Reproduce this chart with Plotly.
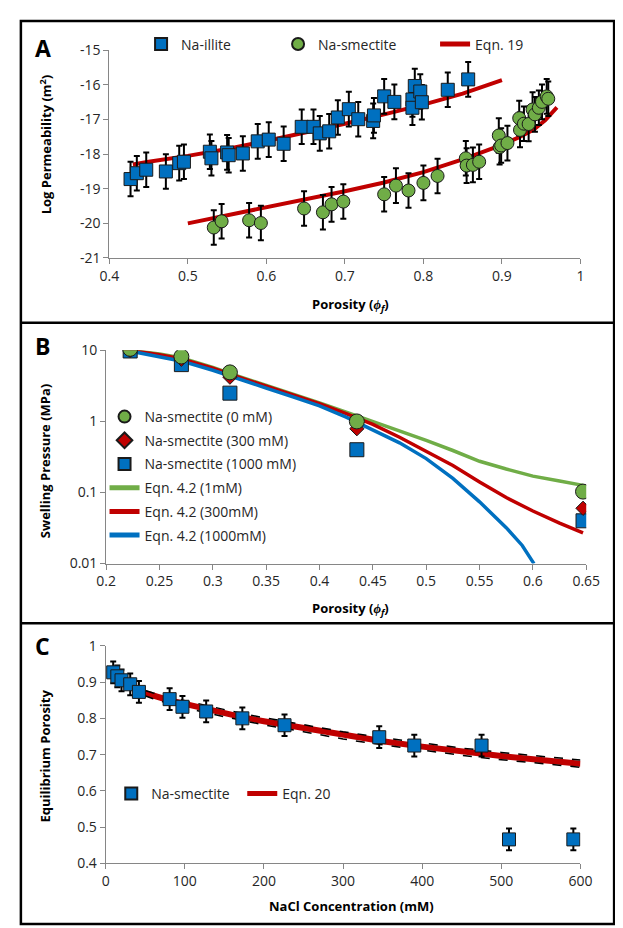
import plotly.graph_objects as go

# ---- Panel A: permeability vs porosity ----
illite_phi = [0.427, 0.435, 0.447, 0.472, 0.489, 0.495, 0.528, 0.530, 0.550, 0.552, 0.570,
              0.589, 0.603, 0.622, 0.645, 0.660, 0.668, 0.680, 0.691, 0.705, 0.717, 0.736,
              0.737, 0.750, 0.763, 0.786, 0.786, 0.789, 0.796, 0.798, 0.831, 0.857]
illite_logk = [-18.72, -18.55, -18.45, -18.50, -18.26, -18.22, -17.93, -18.12, -17.95, -18.03, -17.98,
               -17.63, -17.58, -17.70, -17.21, -17.21, -17.40, -17.34, -16.94, -16.70, -16.99, -17.04,
               -16.88, -16.33, -16.49, -16.42, -16.66, -16.03, -16.19, -16.50, -16.14, -15.84]
smect_phi = [0.533, 0.543, 0.578, 0.593, 0.648, 0.672, 0.683, 0.698, 0.750, 0.765, 0.781,
             0.800, 0.818, 0.854, 0.855, 0.863, 0.871, 0.896, 0.897, 0.899, 0.907, 0.922,
             0.923, 0.928, 0.934, 0.939, 0.942, 0.947, 0.951, 0.957, 0.959]
smect_logk = [-20.12, -19.94, -19.91, -19.99, -19.57, -19.68, -19.45, -19.37, -19.16, -18.91, -19.05,
              -18.83, -18.63, -18.12, -18.33, -18.31, -18.22, -17.46, -17.80, -17.75, -17.68, -16.96,
              -17.30, -17.12, -17.13, -16.71, -16.85, -16.66, -16.49, -16.33, -16.40]
logk_err = 0.5
eq19_illite_phi = [0.43, 0.45, 0.50, 0.55, 0.60, 0.65, 0.70, 0.75, 0.80, 0.85, 0.90]
eq19_illite_logk = [-18.30, -18.22, -18.05, -17.85, -17.62, -17.38, -17.12, -16.85, -16.57, -16.25, -15.86]
eq19_smect_phi = [0.50, 0.55, 0.60, 0.65, 0.70, 0.75, 0.80, 0.85, 0.90, 0.92, 0.94, 0.955, 0.97]
eq19_smect_logk = [-20.00, -19.77, -19.54, -19.31, -19.07, -18.82, -18.52, -18.15, -17.73, -17.53, -17.30, -17.02, -16.65]

# ---- Panel B: swelling pressure ----
sw_phi = [0.2225, 0.2705, 0.316, 0.435, 0.647]
sw_0mM = [10.5, 8.2, 4.9, 1.0, 0.103]
sw_300mM = [10.0, 7.5, 4.2, 0.79, 0.06]
sw_1000mM = [9.8, 6.3, 2.5, 0.40, 0.04]
eq42_phi = [0.222, 0.25, 0.27, 0.30, 0.325, 0.35, 0.375, 0.40, 0.425, 0.45, 0.475, 0.50,
            0.525, 0.55, 0.575, 0.60, 0.625, 0.647]
eq42_1mM = [10.0, 8.9, 7.9, 5.75, 4.27, 3.24, 2.45, 1.82, 1.35, 1.0, 0.74, 0.54,
            0.39, 0.275, 0.214, 0.17, 0.145, 0.126]
eq42_300mM = [10.0, 8.7, 7.6, 5.6, 4.17, 3.16, 2.4, 1.78, 1.29, 0.91, 0.60, 0.38,
              0.24, 0.141, 0.085, 0.055, 0.037, 0.027]
eq42_1000_phi = [0.222, 0.25, 0.27, 0.30, 0.325, 0.35, 0.375, 0.40, 0.425, 0.45, 0.475,
                 0.50, 0.525, 0.55, 0.575, 0.59, 0.601]
eq42_1000mM = [9.8, 8.1, 7.1, 5.25, 3.98, 2.95, 2.21, 1.66, 1.15, 0.76, 0.50,
               0.30, 0.158, 0.074, 0.032, 0.018, 0.01]

# ---- Panel C: equilibrium porosity vs NaCl ----
nacl_mM = [9.5, 14.7, 20, 31, 42, 80.8, 97, 127, 172.7, 226, 345.7, 390, 475, 509.7, 591]
eq_phi = [0.927, 0.916, 0.905, 0.894, 0.873, 0.853, 0.832, 0.819, 0.800, 0.781,
          0.748, 0.725, 0.725, 0.466, 0.466]
phi_err = 0.03
eq20_c = [10, 20, 30, 45, 60, 80, 100, 125, 150, 175, 200, 250, 300, 350, 400, 450, 500, 550, 600]
eq20_phi = [0.915, 0.905, 0.893, 0.873, 0.862, 0.850, 0.840, 0.826, 0.814, 0.802, 0.792,
            0.773, 0.753, 0.737, 0.722, 0.708, 0.696, 0.685, 0.675]
eq20_hi = [0.919, 0.910, 0.899, 0.880, 0.870, 0.859, 0.849, 0.836, 0.824, 0.812, 0.802,
           0.783, 0.763, 0.747, 0.732, 0.718, 0.706, 0.695, 0.685]
eq20_lo = [0.911, 0.900, 0.887, 0.866, 0.854, 0.841, 0.831, 0.816, 0.804, 0.792, 0.782,
           0.763, 0.743, 0.727, 0.712, 0.698, 0.686, 0.675, 0.665]

a_xticks = [0.4, 0.5, 0.6, 0.7, 0.8, 0.9, 1.0]
a_xlabels = ["0.4", "0.5", "0.6", "0.7", "0.8", "0.9", "1"]
a_yticks = [-21, -20, -19, -18, -17, -16, -15]
a_ylabels = ["-21", "-20", "-19", "-18", "-17", "-16", "-15"]
b_xticks = [0.2, 0.25, 0.3, 0.35, 0.4, 0.45, 0.5, 0.55, 0.6, 0.65]
b_xlabels = ["0.2", "0.25", "0.3", "0.35", "0.4", "0.45", "0.5", "0.55", "0.6", "0.65"]
b_yticks = [0.01, 0.1, 1, 10]
b_ylabels = ["0.01", "0.1", "1", "10"]
c_xticks = [0, 100, 200, 300, 400, 500, 600]
c_yticks = [0.4, 0.5, 0.6, 0.7, 0.8, 0.9, 1.0]
c_ylabels = ["0.4", "0.5", "0.6", "0.7", "0.8", "0.9", "1"]

BLUE = "#0070C0"
GREEN = "#70AD47"
RED = "#C00000"
W, H = 623, 928
FONT = "Open Sans"

fig = go.Figure()

# --- A ---
fig.add_trace(go.Scatter(x=eq19_illite_phi, y=eq19_illite_logk, mode="lines",
                         line=dict(color=RED, width=4), name="Eqn. 19",
                         legend="legend", legendrank=3, xaxis="x", yaxis="y"))
fig.add_trace(go.Scatter(x=eq19_smect_phi, y=eq19_smect_logk, mode="lines",
                         line=dict(color=RED, width=4), showlegend=False, xaxis="x", yaxis="y"))
err_a = dict(type="constant", value=logk_err, color="black", thickness=2, width=3)
fig.add_trace(go.Scatter(x=illite_phi, y=illite_logk, mode="markers", name="Na-illite",
                         marker=dict(symbol="square", size=13, color=BLUE, line=dict(color="#1a1a1a", width=1)),
                         error_y=err_a, legend="legend", legendrank=1, legendwidth=92,
                         xaxis="x", yaxis="y"))
fig.add_trace(go.Scatter(x=smect_phi, y=smect_logk, mode="markers", name="Na-smectite",
                         marker=dict(symbol="circle", size=13, color=GREEN, line=dict(color="#1a1a1a", width=1)),
                         error_y=err_a, legend="legend", legendrank=2, legendwidth=112,
                         xaxis="x", yaxis="y"))

# --- B ---
for name, xs, ys, col, rk in [("Eqn. 4.2 (1mM)", eq42_phi, eq42_1mM, GREEN, 4),
                              ("Eqn. 4.2 (300mM)", eq42_phi, eq42_300mM, RED, 5),
                              ("Eqn. 4.2 (1000mM)", eq42_1000_phi, eq42_1000mM, BLUE, 6)]:
    fig.add_trace(go.Scatter(x=xs, y=ys, mode="lines", name=name, line=dict(color=col, width=3.5),
                             legend="legend2", legendrank=rk, legendgroup=name,
                             xaxis="x2", yaxis="y2"))
for name, ys, sym, col, sz, rk in [("Na-smectite (1000 mM)", sw_1000mM, "square", BLUE, 14, 3),
                                   ("Na-smectite (300 mM)", sw_300mM, "diamond", RED, 11, 2),
                                   ("Na-smectite (0 mM)", sw_0mM, "circle", GREEN, 15, 1)]:
    fig.add_trace(go.Scatter(x=sw_phi, y=ys, mode="markers", name=name,
                             marker=dict(symbol=sym, size=sz, color=col, line=dict(color="#1a1a1a", width=1)),
                             legend="legend2", legendrank=rk, legendgroup=name,
                             xaxis="x2", yaxis="y2"))

# --- C ---
fig.add_trace(go.Scatter(x=eq20_c, y=eq20_phi, mode="lines", name="Eqn. 20",
                         line=dict(color=RED, width=6), legend="legend3", legendrank=2,
                         xaxis="x3", yaxis="y3"))
for ys in (eq20_hi, eq20_lo):
    fig.add_trace(go.Scatter(x=eq20_c, y=ys, mode="lines", showlegend=False,
                             line=dict(color="black", width=1.5, dash="dash"),
                             xaxis="x3", yaxis="y3"))
fig.add_trace(go.Scatter(x=nacl_mM, y=eq_phi, mode="markers", name="Na-smectite",
                         marker=dict(symbol="square", size=13, color=BLUE, line=dict(color="#1a1a1a", width=1)),
                         error_y=dict(type="constant", value=phi_err, color="black", thickness=2, width=3),
                         legend="legend3", legendrank=1, legendwidth=86,
                         xaxis="x3", yaxis="y3"))


def px_x(p):
    return p / W


def px_y(p):
    return 1 - p / H


axis_common = dict(showline=True, linecolor="#868686", linewidth=1, ticks="outside",
                   ticklen=5, tickcolor="#868686", showgrid=False, zeroline=False,
                   tickfont=dict(family=FONT, size=14, color="#262626"))
leg_common = dict(bgcolor="rgba(0,0,0,0)", font=dict(family=FONT, size=14, color="#262626"),
                  itemsizing="constant")

fig.update_layout(
    width=W, height=H, margin=dict(l=0, r=0, t=0, b=0),
    paper_bgcolor="white", plot_bgcolor="white",
    font=dict(family=FONT, size=14, color="#262626"),
    xaxis=dict(domain=[px_x(95), px_x(585)], range=[0.4, 1.0], tickvals=a_xticks,
               ticktext=a_xlabels, anchor="y", **axis_common),
    yaxis=dict(domain=[px_y(245), px_y(33)], range=[-21, -15], tickvals=a_yticks,
               ticktext=a_ylabels, anchor="x", **axis_common),
    xaxis2=dict(domain=[px_x(91.7), px_x(591)], range=[0.2, 0.65], tickvals=b_xticks,
                ticktext=b_xlabels, anchor="y2", **axis_common),
    yaxis2=dict(domain=[px_y(557), px_y(339.3)], type="log", range=[-2, 1], tickvals=b_yticks,
                ticktext=b_ylabels, anchor="x2", **axis_common),
    xaxis3=dict(domain=[px_x(91.2), px_x(585)], range=[0, 600], tickvals=c_xticks,
                anchor="y3", **axis_common),
    yaxis3=dict(domain=[px_y(863), px_y(641)], range=[0.4, 1.0], tickvals=c_yticks,
                ticktext=c_ylabels, anchor="x3", **axis_common),
    legend=dict(orientation="h", x=px_x(128), y=px_y(27), xanchor="left", yanchor="middle",
                traceorder="normal", **leg_common),
    legend2=dict(orientation="v", x=px_x(90), y=px_y(391), xanchor="left", yanchor="top",
                 traceorder="grouped", tracegroupgap=2.5, **leg_common),
    legend3=dict(orientation="h", x=px_x(97), y=px_y(792), xanchor="left", yanchor="middle",
                 traceorder="normal", **leg_common),
    showlegend=True,
)

# panel frames
frame = dict(type="line", xref="paper", yref="paper", line=dict(color="black", width=2.5))
fig.add_shape(type="rect", xref="paper", yref="paper", x0=px_x(3), x1=px_x(620),
              y0=px_y(925), y1=px_y(3), line=dict(color="black", width=2.5))
fig.add_shape(x0=px_x(3), x1=px_x(620), y0=px_y(311), y1=px_y(311), **frame)
fig.add_shape(x0=px_x(3), x1=px_x(620), y0=px_y(618), y1=px_y(618), **frame)

title_font = dict(family=FONT, size=13, color="black")
labels = [
    ("<b>A</b>", 26, 31, 0, dict(family=FONT, size=23, color="black")),
    ("<b>B</b>", 26, 335, 0, dict(family=FONT, size=23, color="black")),
    ("<b>C</b>", 26, 641, 0, dict(family=FONT, size=23, color="black")),
    ("<b>Porosity (<i>ϕ<sub>f</sub></i>)</b>", 346, 293, 0, title_font),
    ("<b>Porosity (<i>ϕ<sub>f</sub></i>)</b>", 346, 603, 0, title_font),
    ("<b>NaCl Concentration (mM)</b>", 346.5, 906.5, 0, title_font),
    ("<b>Log Permeability (m<sup>2</sup>)</b>", 28, 129, -90, title_font),
    ("<b>Swelling Pressure (MPa)</b>", 28, 452.5, -90, title_font),
    ("<b>Equilibrium Porosity</b>", 28, 753, -90, title_font),
]
for text, x, y, ang, f in labels:
    fig.add_annotation(text=text, x=px_x(x), y=px_y(y), xref="paper", yref="paper",
                       showarrow=False, textangle=ang, font=f, xanchor="center", yanchor="middle")

fig.write_html("out.html")
